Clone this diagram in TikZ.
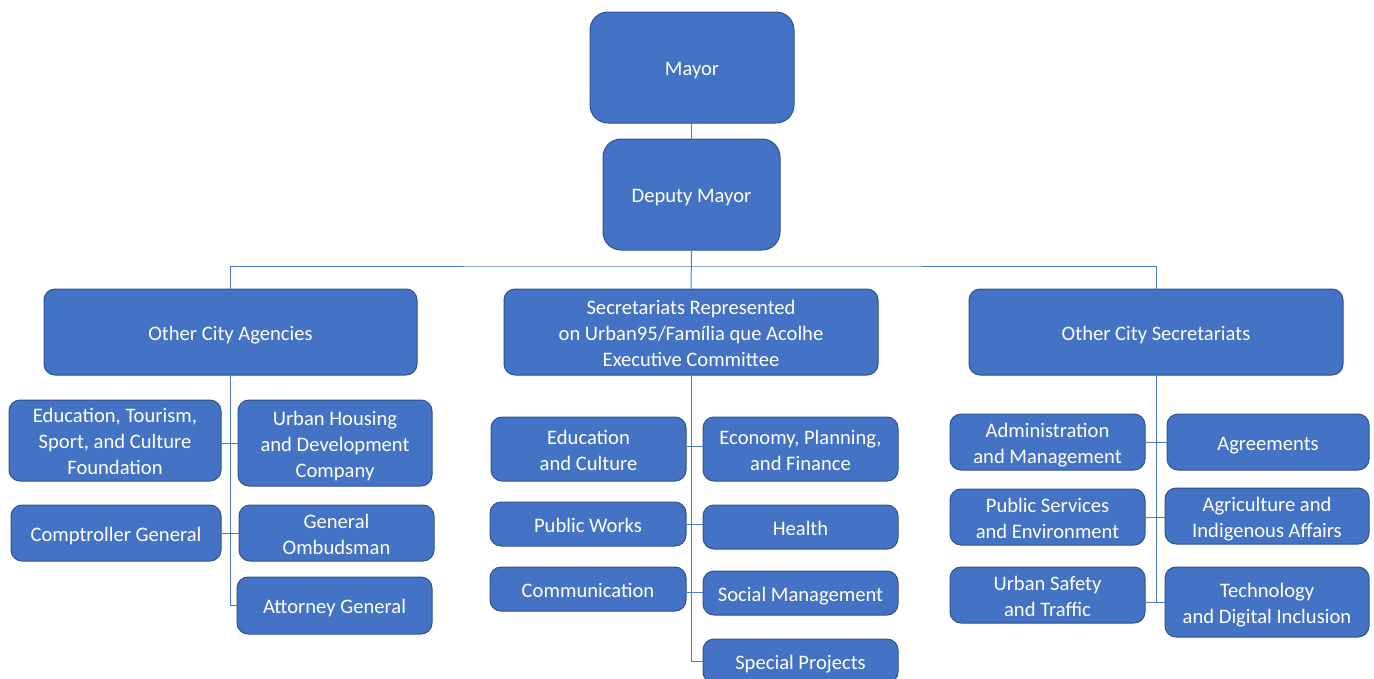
\documentclass[tikz,border=0pt]{standalone}
\usepackage{fontspec}
\setmainfont{Carlito}
\definecolor{boxfill}{RGB}{68,114,196}
\definecolor{boxline}{RGB}{47,82,143}
\definecolor{conn}{RGB}{80,122,200}
\newcommand\btext[1]{\raisebox{-2.8pt}[\height][\depth]{\begin{tabular}{@{}c@{}}#1\end{tabular}}}
\begin{document}
\begin{tikzpicture}[x=1pt,y=-1pt,
  box/.style={draw=boxline, line width=1pt, fill=boxfill, rounded corners=11pt,
    text=white, align=center, inner sep=0pt,
    font=\fontsize{20.6}{26}\selectfont},
  link/.style={draw=conn, line width=1pt}]
\useasboundingbox (0,0) rectangle (1374,678);
\clip (0,0) rectangle (1374,678);
% top
\node[box, rounded corners=18pt, minimum width=204pt, minimum height=111pt] (mayor) at (692,67.5) {\btext{Mayor}};
\node[box, rounded corners=18pt, minimum width=177pt, minimum height=111pt] (deputy) at (691.5,194.5) {\btext{Deputy Mayor}};
% level 2
\node[box, minimum width=373pt, minimum height=86pt] (agencies) at (230.5,332) {\btext{Other City Agencies}};
\node[box, minimum width=374pt, minimum height=86pt] (secr) at (691,332) {\btext{Secretariats Represented\\on Urban95/Família que Acolhe\\Executive Committee}};
\node[box, minimum width=374pt, minimum height=86pt] (othsec) at (1156,332) {\btext{Other City Secretariats}};
% left group
\node[box, minimum width=212pt, minimum height=81pt] (etsc) at (115,440.5) {\btext{Education, Tourism,\\Sport, and Culture\\Foundation}};
\node[box, minimum width=194pt, minimum height=86pt] (uhdc) at (335,443) {\btext{Urban Housing\\and Development\\Company}};
\node[box, minimum width=210pt, minimum height=56pt] (comp) at (116,533) {\btext{Comptroller General}};
\node[box, minimum width=195pt, minimum height=56pt] (ombud) at (336.5,533) {\btext{General\\Ombudsman}};
\node[box, minimum width=195pt, minimum height=57pt] (atty) at (334.5,605.5) {\btext{Attorney General}};
% middle group
\node[box, minimum width=195pt, minimum height=64pt] (educ) at (588.5,449) {\btext{Education\\and Culture}};
\node[box, minimum width=195pt, minimum height=64pt] (econ) at (800.5,449) {\btext{Economy, Planning,\\and Finance}};
\node[box, minimum width=196pt, minimum height=44pt] (pw) at (588,524) {\btext{Public Works}};
\node[box, minimum width=195pt, minimum height=44pt] (health) at (800.5,527) {\btext{Health}};
\node[box, minimum width=196pt, minimum height=44pt] (comm) at (588,589) {\btext{Communication}};
\node[box, minimum width=195pt, minimum height=44pt] (social) at (800.5,593) {\btext{Social Management}};
\node[box, minimum width=195pt, minimum height=44pt] (special) at (800.5,661) {\btext{Special Projects}};
% right group
\node[box, minimum width=195pt, minimum height=56pt] (admin) at (1047.5,442) {\btext{Administration\\and Management}};
\node[box, minimum width=202pt, minimum height=56pt] (agree) at (1268,442) {\btext{Agreements}};
\node[box, minimum width=195pt, minimum height=56pt] (pubsvc) at (1047.5,517) {\btext{Public Services\\and Environment}};
\node[box, minimum width=204pt, minimum height=56pt] (agri) at (1267,516) {\btext{Agriculture and\\Indigenous Affairs}};
\node[box, minimum width=195pt, minimum height=56pt] (safety) at (1047.5,595) {\btext{Urban Safety\\and Traffic}};
\node[box, minimum width=204pt, minimum height=70pt] (tech) at (1267,602) {\btext{Technology\\and Digital Inclusion}};
% connectors
\coordinate (bar) at (692,266);
\draw[link] (mayor.south) -- (deputy.south |- mayor.south) -- (deputy.north);
\draw[link] (deputy.south) -- (secr.north);
\draw[link] (agencies.north) |- (bar) -| (othsec.north);
\draw[link] (agencies.south) |- (atty.west);
\draw[link] (etsc.east |- uhdc.west) -- (uhdc.west);
\draw[link] (comp.east) -- (ombud.west);
\draw[link] (secr.south) |- (special.west);
\coordinate (e1) at (educ.east |- 0,446);
\draw[link] (e1) -- (e1 -| econ.west);
\draw[link] (pw.east) -- (pw.east -| health.west);
\coordinate (c1) at (comm.east |- 0,592);
\draw[link] (c1) -- (c1 -| social.west);
\draw[link] (othsec.south) |- (tech.west);
\draw[link] (admin.east) -- (agree.west);
\draw[link] (pubsvc.east) -- (pubsvc.east -| agri.west);
\draw[link] (safety.east |- tech.west) -- (tech.west);
\end{tikzpicture}
\end{document}
